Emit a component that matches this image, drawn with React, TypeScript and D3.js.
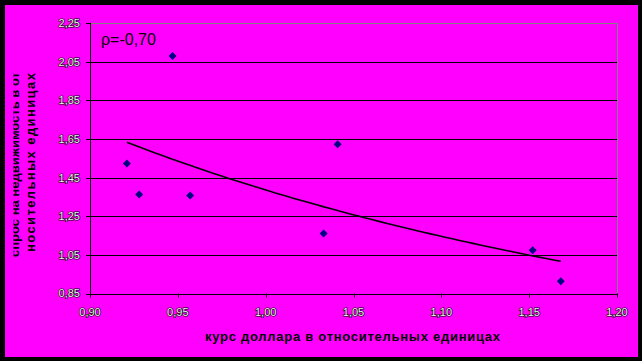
import React from "react";
import * as d3 from "d3";

const xValues = [0.921, 0.928, 0.947, 0.957, 1.033, 1.041, 1.152, 1.168];
const yValues = [1.523, 1.363, 2.079, 1.357, 1.161, 1.623, 1.074, 0.914];
const xTicks = [0.9, 0.95, 1.0, 1.05, 1.1, 1.15, 1.2];
const yTicks = [0.85, 1.05, 1.25, 1.45, 1.65, 1.85, 2.05, 2.25];
const corrLabel = "ρ=-0,70";
const xTitle = "курс доллара в относительных единицах";
const yTitle1 = "спрос на недвижимость в от";
const yTitle2 = "носительных единицах";

const W = 642, H = 361;
const left = 90, right = 617, top = 23, bottom = 293.5;

const fmt = (v: number) => v.toFixed(2).replace(".", ",");

const wideDiamond = {
  draw(ctx: any, size: number) {
    const r = Math.sqrt(size) / 2;
    ctx.moveTo(0, -r);
    ctx.lineTo(r, 0);
    ctx.lineTo(0, r);
    ctx.lineTo(-r, 0);
    ctx.closePath();
  },
};

export default function App() {
  const x = d3.scaleLinear().domain([0.9, 1.2]).range([left, right]);
  const y = d3.scaleLinear().domain([0.85, 2.25]).range([bottom, top]);

  // power trendline fit y = a * x^b (least squares in log space)
  const lx = xValues.map(Math.log);
  const ly = yValues.map(Math.log);
  const mx = d3.mean(lx) as number;
  const my = d3.mean(ly) as number;
  let sxy = 0, sxx = 0;
  lx.forEach((v, i) => { sxy += (v - mx) * (ly[i] - my); sxx += (v - mx) * (v - mx); });
  const b = sxy / sxx;
  const a = Math.exp(my - b * mx);
  const [x0, x1] = d3.extent(xValues) as [number, number];
  const samples = d3.range(0, 61).map((i) => x0 + ((x1 - x0) * i) / 60);
  const line = d3.line<number>().x((v) => x(v)).y((v) => y(a * Math.pow(v, b)));

  const diamond = d3.symbol().type(wideDiamond as any).size(64)() as string;

  return (
    <svg width={W} height={H} style={{ position: "absolute", left: 0, top: 0, display: "block" }}>
      <defs>
        <clipPath id="clipY1">
          <rect x={13.5} y={0} width={20} height={H} />
        </clipPath>
      </defs>
      <rect x={0} y={0} width={W} height={H} fill="#000" />
      <rect x={5} y={5} width={633} height={352} fill="#ff00ff" />
      {/* gridlines */}
      {yTicks.map((t) => (
        <line key={"g" + t} x1={left} x2={right} y1={Math.round(y(t)) + 0.5} y2={Math.round(y(t)) + 0.5}
          stroke={t === 2.25 ? "#808080" : "#000"} strokeWidth={1} />
      ))}
      <line x1={right + 0.5} x2={right + 0.5} y1={top} y2={bottom} stroke="#808080" />
      {/* axes */}
      <line x1={left + 0.5} x2={left + 0.5} y1={top} y2={bottom + 4} stroke="#000" />
      <line x1={left - 4} x2={right} y1={Math.round(bottom) + 0.5} y2={Math.round(bottom) + 0.5} stroke="#000" />
      {yTicks.map((t) => (
        <line key={"yt" + t} x1={left - 4} x2={left} y1={Math.round(y(t)) + 0.5} y2={Math.round(y(t)) + 0.5} stroke="#000" />
      ))}
      {xTicks.map((t) => (
        <line key={"xt" + t} x1={Math.round(x(t)) + 0.5} x2={Math.round(x(t)) + 0.5} y1={bottom} y2={bottom + 4} stroke="#000" />
      ))}
      {/* tick labels */}
      {yTicks.map((t) => (
        <text key={"yl" + t} x={80} y={y(t)} dy="0.36em" textAnchor="end" fontFamily="Arial, 'Liberation Sans', sans-serif"
          fontSize={11} fill="#f4f4f4" stroke="#000" strokeWidth={1.2} paintOrder="stroke">{fmt(t)}</text>
      ))}
      {xTicks.map((t) => (
        <text key={"xl" + t} x={x(t)} y={312} dy="0.36em" textAnchor="middle" fontFamily="Arial, 'Liberation Sans', sans-serif"
          fontSize={11} fill="#f4f4f4" stroke="#000" strokeWidth={1.2} paintOrder="stroke">{fmt(t)}</text>
      ))}
      {/* trendline */}
      <path d={line(samples) as string} fill="none" stroke="#000" strokeWidth={1.6} />
      {/* points */}
      {xValues.map((v, i) => (
        <path key={"p" + i} d={diamond} transform={`translate(${x(v)},${y(yValues[i])})`} fill="#000080" />
      ))}
      {/* correlation label */}
      <text x={101} y={45} fontFamily="Arial, 'Liberation Sans', sans-serif" fontSize={16} fill="#000">{corrLabel}</text>
      {/* x title */}
      <text x={205} y={341} fontFamily="Arial, 'Liberation Sans', sans-serif" fontSize={13} fontWeight="bold" fill="#000"
        textLength={295} lengthAdjust="spacing">{xTitle}</text>
      {/* y titles */}
      <g clipPath="url(#clipY1)">
        <text transform="translate(19,257) rotate(-90)" fontFamily="Arial, 'Liberation Sans', sans-serif" fontSize={13}
          fontWeight="bold" fill="#000" textLength={185} lengthAdjust="spacing">{yTitle1}</text>
      </g>
      <text transform="translate(35,252) rotate(-90)" fontFamily="Arial, 'Liberation Sans', sans-serif" fontSize={13}
        fontWeight="bold" fill="#000" textLength={179} lengthAdjust="spacing">{yTitle2}</text>
    </svg>
  );
}
